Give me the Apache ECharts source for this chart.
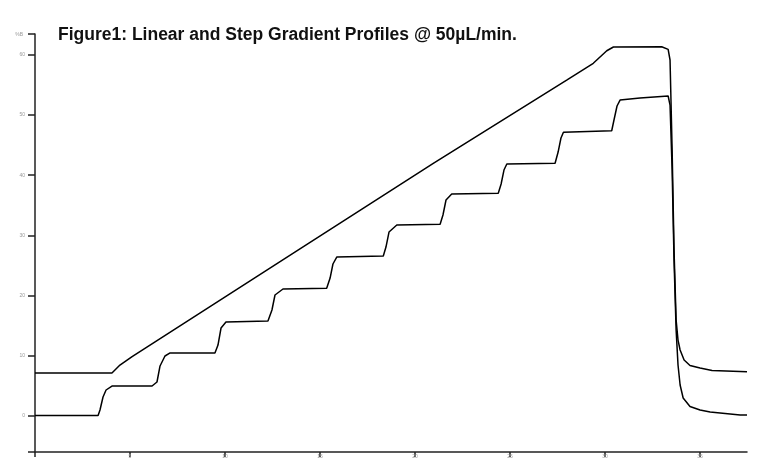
<!DOCTYPE html>
<html>
<head>
<meta charset="utf-8">
<script src="https://cdn.jsdelivr.net/npm/echarts@6/dist/echarts.min.js"></script>
<style>html,body{margin:0;padding:0;background:#fff}#c{width:759px;height:472px}</style>
</head>
<body>
<div id="c"></div>
<script>
// Time (min) and %B
const linearX = [0, 4.05, 4.47, 5.11, 13.84, 20.96, 27.98, 29.38, 30.09, 30.44, 32.98, 33.32, 33.42, 33.53, 33.63, 33.74, 33.84, 33.95, 34.16, 34.47, 35.0, 35.63, 37.47];
const linearY = [7.14, 7.14, 8.47, 9.88, 27.57, 41.98, 55.81, 58.59, 60.68, 61.30, 61.35, 60.91, 59.14, 44.19, 27.57, 15.95, 12.62, 10.96, 9.30, 8.39, 7.97, 7.56, 7.36];
const stepX = [0, 3.32, 3.42, 3.58, 3.74, 4.05, 6.16, 6.42, 6.58, 6.84, 7.11, 9.47, 9.63, 9.79, 10.05, 12.26, 12.47, 12.63, 13.05, 15.35, 15.53, 15.68, 15.88, 18.33, 18.47, 18.63, 19.04, 21.32, 21.47, 21.63, 21.93, 24.38, 24.53, 24.68, 24.83, 27.37, 27.53, 27.68, 27.81, 30.35, 30.47, 30.63, 30.79, 31.84, 33.32, 33.42, 33.53, 33.63, 33.74, 33.84, 33.95, 34.11, 34.47, 35.0, 35.53, 37.11, 37.47];
const stepY = [0.08, 0.08, 1.0, 3.16, 4.32, 4.98, 4.98, 5.65, 8.31, 9.97, 10.47, 10.47, 11.79, 14.62, 15.61, 15.78, 17.61, 20.10, 21.10, 21.21, 22.92, 25.25, 26.41, 26.58, 28.07, 30.56, 31.73, 31.84, 33.39, 35.88, 36.88, 36.99, 38.54, 40.86, 41.86, 41.98, 43.85, 46.18, 47.13, 47.39, 49.17, 51.50, 52.49, 52.82, 53.16, 51.66, 40.86, 25.91, 14.29, 8.47, 5.15, 2.99, 1.58, 1.0, 0.66, 0.17, 0.17];
const xTicks = [5, 10, 15, 20, 25, 30, 35];
const yTicks = [0, 10, 20, 30, 40, 50, 60];
const titleText = 'Figure1: Linear and Step Gradient Profiles @ 50µL/min.';
const yName = '%B';

const pair = (xs, ys) => xs.map((x, i) => [x, ys[i]]);
const chart = echarts.init(document.getElementById('c'), null, {renderer: 'canvas'});
chart.setOption({
  animation: false,
  backgroundColor: '#fff',
  title: {
    text: titleText, left: 53, top: 21,
    textStyle: {fontFamily: 'Liberation Sans, Arial, sans-serif', fontWeight: 'bold', fontSize: 17.5, color: '#111'}
  },
  grid: {left: 35, right: 12, top: 34, bottom: 20, containLabel: false},
  xAxis: {
    type: 'value', min: 0, max: 37.47,
    axisLine: {onZero: false, lineStyle: {color: '#222', width: 1.5}},
    axisTick: {show: true, length: 5, lineStyle: {color: '#222', width: 1.5}, customValues: [0].concat(xTicks)},
    axisLabel: {customValues: xTicks, fontSize: 5, color: '#999', margin: 2, fontFamily: 'Liberation Sans, Arial, sans-serif'},
    splitLine: {show: false}
  },
  yAxis: {
    type: 'value', min: -5.98, max: 63.46,
    name: yName, nameLocation: 'end', nameGap: -3,
    nameTextStyle: {fontSize: 5, color: '#999', align: 'right', padding: [0, 12, 0, 0]},
    axisLine: {onZero: false, lineStyle: {color: '#222', width: 1.5}},
    axisTick: {show: true, length: 7, lineStyle: {color: '#222', width: 1.5}, customValues: [-5.98].concat(yTicks, [63.46])},
    axisLabel: {customValues: yTicks, fontSize: 5, color: '#999', margin: 10, fontFamily: 'Liberation Sans, Arial, sans-serif'},
    splitLine: {show: false}
  },
  series: [
    {type: 'line', name: 'Linear', data: pair(linearX, linearY), showSymbol: false, symbol: 'none',
     lineStyle: {color: '#000', width: 1.5}},
    {type: 'line', name: 'Step', data: pair(stepX, stepY), showSymbol: false, symbol: 'none',
     lineStyle: {color: '#000', width: 1.5}}
  ]
});
</script>
</body>
</html>
